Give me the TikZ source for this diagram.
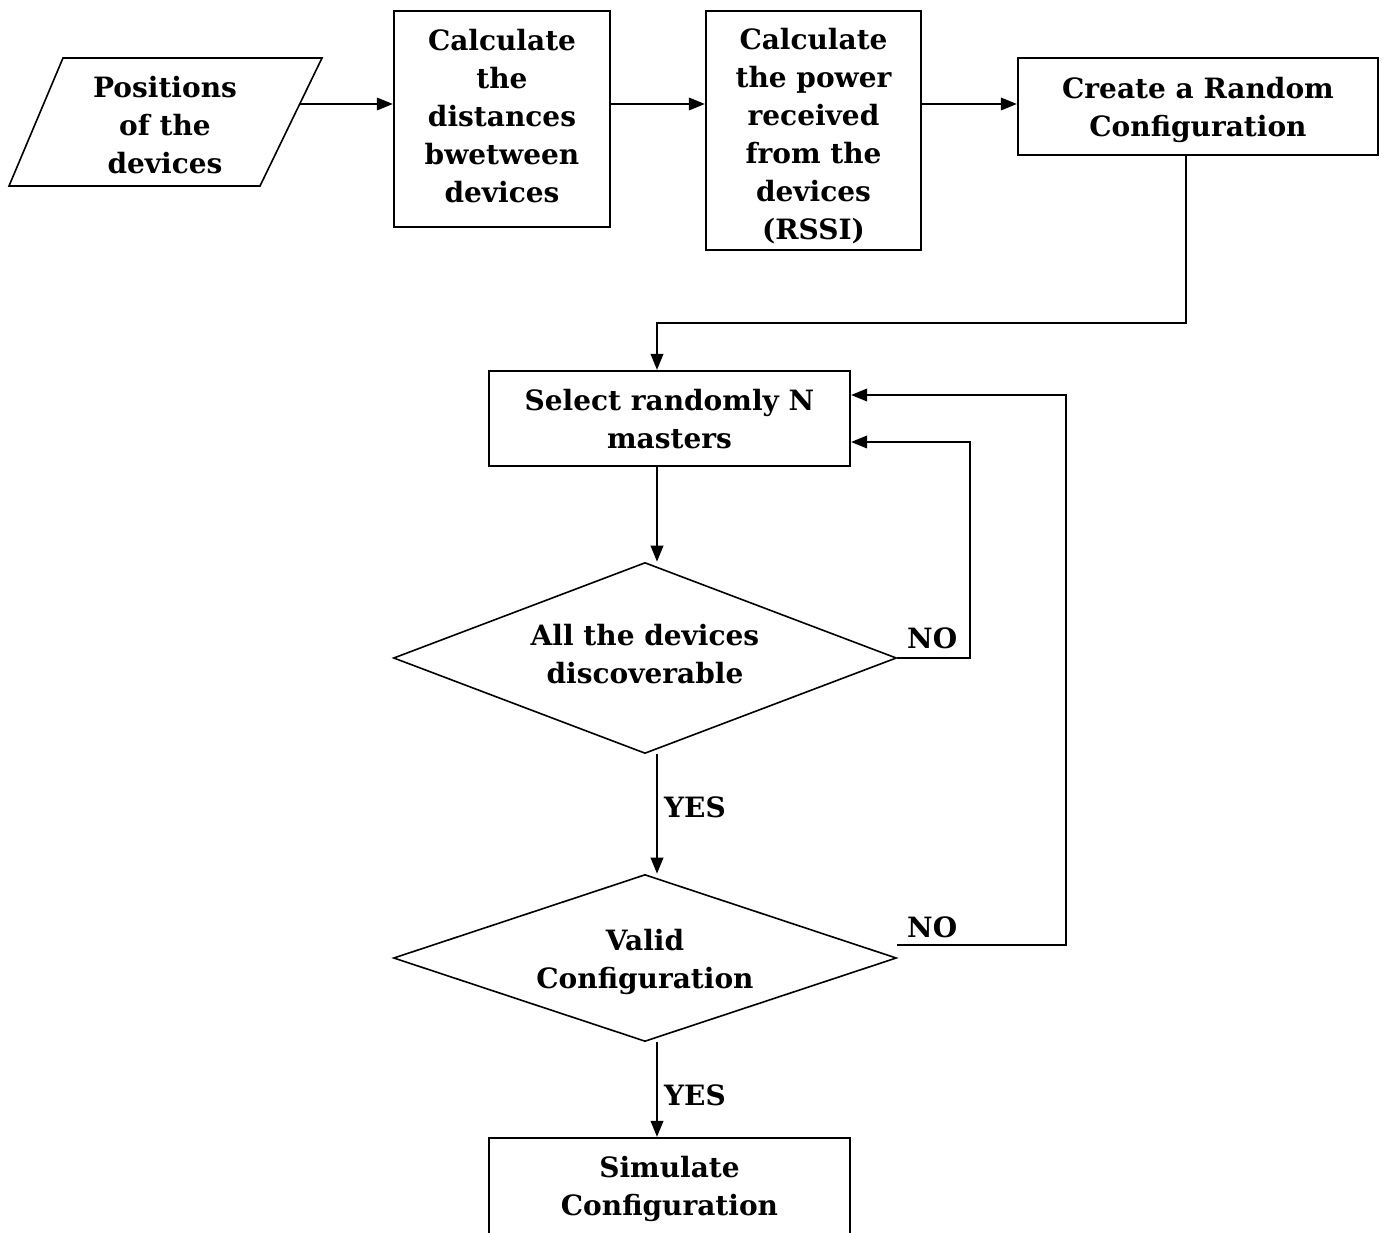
\documentclass[tikz,border=0pt]{standalone}
\usepackage{fontspec}
\setmainfont{DejaVu Serif}
\usetikzlibrary{shapes.geometric,arrows.meta}
\begin{document}
\begin{tikzpicture}[x=1pt,y=-1pt,
  lbl/.style={font=\fontsize{28}{38}\selectfont\bfseries, align=center, inner sep=0pt},
  rbox/.style={draw, line width=2.2pt, inner sep=0pt, rectangle},
  dbox/.style={draw, line width=1.6pt, inner sep=0pt, diamond},
  tag/.style={font=\fontsize{28}{38}\selectfont\bfseries, inner sep=0pt, anchor=base west},
  arr/.style={-{Triangle[length=16pt,width=12.5pt]}, line width=2pt}]
\useasboundingbox (0,0) rectangle (1384,1233);
% parallelogram
\draw[line width=1.6pt] (63,58) -- (322,58) -- (260,186) -- (9,186) -- cycle;
\node[lbl] (par) at (165,125) {Positions\\of the\\devices};
\coordinate (parR) at (299.7,104);
% boxes
\node[rbox, minimum width=216pt, minimum height=216pt] (b1) at (502,119) {};
\node[lbl] (b1t) at ([yshift=3pt]b1.center) {Calculate\\the\\distances\\bwetween\\devices};
\node[rbox, minimum width=215pt, minimum height=239pt] (b2) at (813.5,130.5) {};
\node[lbl] (b2t) at ([yshift=-6pt]b2.center) {Calculate\\the power\\received\\from the\\devices\\(RSSI)};
\node[rbox, minimum width=360pt, minimum height=97pt] (b3) at (1198,106.5) {};
\node[lbl] (b3t) at ([yshift=-3pt]b3.center) {Create a Random\\Configuration};
\node[rbox, minimum width=361pt, minimum height=95pt] (b4) at (669.5,418.5) {};
\node[lbl] (b4t) at ([yshift=-1pt]b4.center) {Select randomly N\\masters};
\node[dbox, aspect=2.63, minimum width=503pt, minimum height=191pt] (d1) at (645,658) {};
\node[lbl] (d1t) at ([yshift=4pt]d1.center) {All the devices\\discoverable};
\node[dbox, aspect=3.01, minimum width=503pt, minimum height=167pt] (d2) at (645,958) {};
\node[lbl] (d2t) at ([yshift=-4pt]d2.center) {Valid\\Configuration};
\node[rbox, minimum width=361pt, minimum height=102pt] (b5) at (669.5,1189) {};
\node[lbl] (b5t) at ([yshift=0pt]b5.center) {Simulate\\Configuration};
% helper coordinates
\coordinate (r) at (0,104);
\coordinate (mx) at (657,0);
\coordinate (c1) at (1186,323);
\coordinate (n1) at (970,442);
\coordinate (n2) at (1066,395);
\coordinate (d2r) at (897,945);
% connectors
\draw[arr] (parR) -- (parR -| b1.west);
\draw[arr] (b1.east |- r) -- (b2.west |- r);
\draw[arr] (b2.east |- r) -- (b3.west |- r);
\draw[arr] (b3.south -| c1) -- (c1) -- (c1 -| mx) -- (b4.north -| mx);
\draw[arr] (b4.south -| mx) -- (d1.north -| mx);
\draw[arr] (d1.south -| mx) -- (d2.north -| mx);
\draw[arr] (d2.south -| mx) -- (b5.north -| mx);
\draw[arr] (d1.east) -- (d1.east -| n1) -- (n1) -- (n1 -| b4.east);
\draw[arr] (d2r) -- (d2r -| n2) -- (n2) -- (n2 -| b4.east);
% labels
\node[tag] (no1) at (907,648) {NO};
\node[tag] (no2) at (907,937) {NO};
\node[tag] (yes1) at (664,817) {YES};
\node[tag] (yes2) at (664,1105) {YES};
\end{tikzpicture}
\end{document}
